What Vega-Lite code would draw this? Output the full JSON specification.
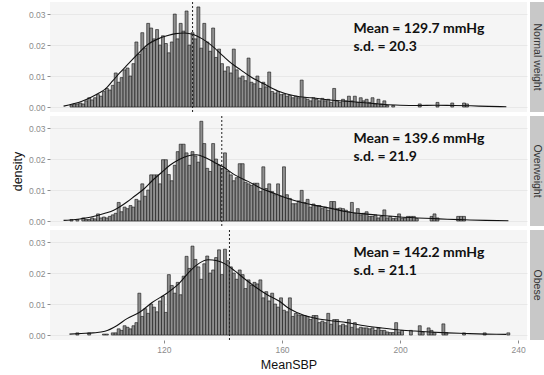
{
  "$schema": "https://vega.github.io/schema/vega-lite/v6.json",
  "background": "white",
  "padding": {"left": 11, "top": 1, "right": 0, "bottom": 3},
  "datasets": {
    "stats": [
      {"g": "Normal weight", "mean": 129.7, "sd": 20.3},
      {"g": "Overweight", "mean": 139.6, "sd": 21.9},
      {"g": "Obese", "mean": 142.2, "sd": 21.1}
    ],
    "normal": [
      {"b":88,"d":0.0007},{"b":89,"d":0.001},{"b":90,"d":0.001},{"b":91,"d":0.0013},{"b":92,"d":0.001},{"b":93,"d":0.002},{"b":94,"d":0.003},{"b":95,"d":0.0023},{"b":96,"d":0.003},{"b":97,"d":0.004},{"b":98,"d":0.0035},{"b":99,"d":0.005},{"b":100,"d":0.006},{"b":101,"d":0.0055},{"b":102,"d":0.007},{"b":103,"d":0.011},{"b":104,"d":0.008},{"b":105,"d":0.0095},{"b":106,"d":0.012},{"b":107,"d":0.0126},{"b":108,"d":0.010},{"b":109,"d":0.014},{"b":110,"d":0.021},{"b":111,"d":0.017},{"b":112,"d":0.024},{"b":113,"d":0.019},{"b":114,"d":0.027},{"b":115,"d":0.0255},{"b":116,"d":0.022},{"b":117,"d":0.025},{"b":118,"d":0.020},{"b":119,"d":0.023},{"b":120,"d":0.0205},{"b":121,"d":0.0175},{"b":122,"d":0.021},{"b":123,"d":0.030},{"b":124,"d":0.022},{"b":125,"d":0.027},{"b":126,"d":0.0245},{"b":127,"d":0.031},{"b":128,"d":0.020},{"b":129,"d":0.024},{"b":130,"d":0.022},{"b":131,"d":0.0323},{"b":132,"d":0.019},{"b":133,"d":0.027},{"b":134,"d":0.021},{"b":135,"d":0.018},{"b":136,"d":0.0255},{"b":137,"d":0.016},{"b":138,"d":0.0187},{"b":139,"d":0.014},{"b":140,"d":0.0116},{"b":141,"d":0.013},{"b":142,"d":0.011},{"b":143,"d":0.0187},{"b":144,"d":0.012},{"b":145,"d":0.0094},{"b":146,"d":0.010},{"b":147,"d":0.0085},{"b":148,"d":0.0158},{"b":149,"d":0.008},{"b":150,"d":0.0075},{"b":151,"d":0.010},{"b":152,"d":0.006},{"b":153,"d":0.008},{"b":154,"d":0.0065},{"b":155,"d":0.0113},{"b":156,"d":0.005},{"b":157,"d":0.0045},{"b":158,"d":0.005},{"b":159,"d":0.004},{"b":160,"d":0.0042},{"b":161,"d":0.0035},{"b":162,"d":0.0038},{"b":163,"d":0.003},{"b":164,"d":0.0035},{"b":165,"d":0.003},{"b":166,"d":0.0087},{"b":167,"d":0.003},{"b":168,"d":0.0025},{"b":169,"d":0.002},{"b":170,"d":0.003},{"b":171,"d":0.0025},{"b":172,"d":0.002},{"b":173,"d":0.0028},{"b":174,"d":0.002},{"b":175,"d":0.0025},{"b":176,"d":0.0015},{"b":177,"d":0.006},{"b":178,"d":0.002},{"b":179,"d":0.0015},{"b":180,"d":0.0025},{"b":181,"d":0.002},{"b":182,"d":0.0035},{"b":183,"d":0.002},{"b":184,"d":0.0035},{"b":185,"d":0.0015},{"b":186,"d":0.003},{"b":187,"d":0.002},{"b":188,"d":0.0025},{"b":189,"d":0.0015},{"b":190,"d":0.003},{"b":191,"d":0.001},{"b":192,"d":0.0025},{"b":193,"d":0.001},{"b":194,"d":0.002},{"b":195,"d":0.0005},{"b":197,"d":0.0005},{"b":206,"d":0.001},{"b":212,"d":0.0015},{"b":217,"d":0.0013},{"b":221,"d":0.0013},{"b":222,"d":0.001}
    ],
    "over": [
      {"b":88,"d":0.0005},{"b":90,"d":0.0005},{"b":92,"d":0.001},{"b":93,"d":0.0005},{"b":94,"d":0.0005},{"b":95,"d":0.001},{"b":96,"d":0.0007},{"b":97,"d":0.0023},{"b":98,"d":0.001},{"b":99,"d":0.0013},{"b":100,"d":0.001},{"b":101,"d":0.0015},{"b":102,"d":0.002},{"b":103,"d":0.0025},{"b":104,"d":0.006},{"b":105,"d":0.003},{"b":106,"d":0.0045},{"b":107,"d":0.004},{"b":108,"d":0.005},{"b":109,"d":0.0045},{"b":110,"d":0.007},{"b":111,"d":0.0065},{"b":112,"d":0.012},{"b":113,"d":0.008},{"b":114,"d":0.010},{"b":115,"d":0.0149},{"b":116,"d":0.0149},{"b":117,"d":0.0149},{"b":118,"d":0.012},{"b":119,"d":0.0198},{"b":120,"d":0.0198},{"b":121,"d":0.015},{"b":122,"d":0.013},{"b":123,"d":0.018},{"b":124,"d":0.0224},{"b":125,"d":0.0248},{"b":126,"d":0.0248},{"b":127,"d":0.022},{"b":128,"d":0.018},{"b":129,"d":0.0224},{"b":130,"d":0.021},{"b":131,"d":0.019},{"b":132,"d":0.0322},{"b":133,"d":0.025},{"b":134,"d":0.017},{"b":135,"d":0.016},{"b":136,"d":0.025},{"b":137,"d":0.020},{"b":138,"d":0.018},{"b":139,"d":0.017},{"b":140,"d":0.022},{"b":141,"d":0.016},{"b":142,"d":0.0149},{"b":143,"d":0.013},{"b":144,"d":0.014},{"b":145,"d":0.0185},{"b":146,"d":0.0185},{"b":147,"d":0.0125},{"b":148,"d":0.012},{"b":149,"d":0.0115},{"b":150,"d":0.0122},{"b":151,"d":0.0122},{"b":152,"d":0.0095},{"b":153,"d":0.0175},{"b":154,"d":0.0105},{"b":155,"d":0.012},{"b":156,"d":0.0095},{"b":157,"d":0.0085},{"b":158,"d":0.012},{"b":159,"d":0.008},{"b":160,"d":0.0175},{"b":161,"d":0.0085},{"b":162,"d":0.0073},{"b":163,"d":0.0056},{"b":164,"d":0.0056},{"b":165,"d":0.0065},{"b":166,"d":0.0099},{"b":167,"d":0.006},{"b":168,"d":0.007},{"b":169,"d":0.0045},{"b":170,"d":0.0055},{"b":171,"d":0.005},{"b":172,"d":0.005},{"b":173,"d":0.004},{"b":174,"d":0.0045},{"b":175,"d":0.0035},{"b":176,"d":0.0063},{"b":177,"d":0.0063},{"b":178,"d":0.004},{"b":179,"d":0.0042},{"b":180,"d":0.004},{"b":181,"d":0.0035},{"b":182,"d":0.003},{"b":183,"d":0.006},{"b":184,"d":0.0025},{"b":185,"d":0.004},{"b":186,"d":0.002},{"b":187,"d":0.0025},{"b":188,"d":0.003},{"b":189,"d":0.0015},{"b":190,"d":0.0015},{"b":191,"d":0.002},{"b":192,"d":0.001},{"b":193,"d":0.0015},{"b":194,"d":0.0036},{"b":195,"d":0.001},{"b":196,"d":0.0015},{"b":197,"d":0.0008},{"b":198,"d":0.001},{"b":199,"d":0.0023},{"b":200,"d":0.0008},{"b":201,"d":0.001},{"b":202,"d":0.0015},{"b":203,"d":0.0015},{"b":204,"d":0.0015},{"b":205,"d":0.0008},{"b":210,"d":0.0015},{"b":211,"d":0.0023},{"b":212,"d":0.001},{"b":219,"d":0.0015},{"b":220,"d":0.0015},{"b":221,"d":0.0015}
    ],
    "obese": [
      {"b":90,"d":0.0007},{"b":94,"d":0.0007},{"b":99,"d":0.0003},{"b":100,"d":0.0003},{"b":102,"d":0.0007},{"b":103,"d":0.0007},{"b":104,"d":0.002},{"b":105,"d":0.0015},{"b":106,"d":0.003},{"b":107,"d":0.0025},{"b":108,"d":0.002},{"b":109,"d":0.003},{"b":110,"d":0.004},{"b":111,"d":0.0135},{"b":112,"d":0.006},{"b":113,"d":0.0085},{"b":114,"d":0.007},{"b":115,"d":0.010},{"b":116,"d":0.009},{"b":117,"d":0.0075},{"b":118,"d":0.011},{"b":119,"d":0.0125},{"b":120,"d":0.0073},{"b":121,"d":0.0195},{"b":122,"d":0.016},{"b":123,"d":0.0135},{"b":124,"d":0.017},{"b":125,"d":0.013},{"b":126,"d":0.019},{"b":127,"d":0.0254},{"b":128,"d":0.0215},{"b":129,"d":0.0287},{"b":130,"d":0.0244},{"b":131,"d":0.022},{"b":132,"d":0.018},{"b":133,"d":0.023},{"b":134,"d":0.0255},{"b":135,"d":0.020},{"b":136,"d":0.021},{"b":137,"d":0.025},{"b":138,"d":0.0275},{"b":139,"d":0.0195},{"b":140,"d":0.0277},{"b":141,"d":0.024},{"b":142,"d":0.022},{"b":143,"d":0.020},{"b":144,"d":0.018},{"b":145,"d":0.021},{"b":146,"d":0.0195},{"b":147,"d":0.015},{"b":148,"d":0.0178},{"b":149,"d":0.016},{"b":150,"d":0.017},{"b":151,"d":0.0165},{"b":152,"d":0.0178},{"b":153,"d":0.012},{"b":154,"d":0.014},{"b":155,"d":0.011},{"b":156,"d":0.0135},{"b":157,"d":0.010},{"b":158,"d":0.009},{"b":159,"d":0.012},{"b":160,"d":0.008},{"b":161,"d":0.0075},{"b":162,"d":0.012},{"b":163,"d":0.006},{"b":164,"d":0.007},{"b":165,"d":0.0065},{"b":166,"d":0.0063},{"b":167,"d":0.0063},{"b":168,"d":0.006},{"b":169,"d":0.005},{"b":170,"d":0.0063},{"b":171,"d":0.0063},{"b":172,"d":0.004},{"b":173,"d":0.0045},{"b":174,"d":0.004},{"b":175,"d":0.007},{"b":176,"d":0.0035},{"b":177,"d":0.005},{"b":178,"d":0.005},{"b":179,"d":0.003},{"b":180,"d":0.0035},{"b":181,"d":0.003},{"b":182,"d":0.005},{"b":183,"d":0.0025},{"b":184,"d":0.004},{"b":185,"d":0.002},{"b":186,"d":0.0025},{"b":187,"d":0.0023},{"b":188,"d":0.0023},{"b":189,"d":0.002},{"b":190,"d":0.0023},{"b":191,"d":0.0015},{"b":192,"d":0.0023},{"b":193,"d":0.0015},{"b":194,"d":0.0015},{"b":195,"d":0.001},{"b":196,"d":0.0008},{"b":197,"d":0.0008},{"b":198,"d":0.004},{"b":199,"d":0.001},{"b":200,"d":0.0015},{"b":203,"d":0.0015},{"b":206,"d":0.003},{"b":207,"d":0.001},{"b":209,"d":0.0023},{"b":210,"d":0.0015},{"b":211,"d":0.0008},{"b":214,"d":0.0036},{"b":215,"d":0.0008},{"b":221,"d":0.0007},{"b":228,"d":0.0007},{"b":236,"d":0.0007}
    ],
    "normalKde": [
      {"x":86,"d":0.0003},{"x":89,"d":0.001},{"x":92,"d":0.0018},{"x":95,"d":0.003},{"x":98,"d":0.0045},{"x":100,"d":0.0057},{"x":102.7,"d":0.0085},{"x":105,"d":0.011},{"x":107,"d":0.013},{"x":110,"d":0.016},{"x":112,"d":0.018},{"x":115,"d":0.0205},{"x":118,"d":0.022},{"x":121,"d":0.023},{"x":124,"d":0.0237},{"x":127,"d":0.0239},{"x":130,"d":0.0234},{"x":133,"d":0.022},{"x":136,"d":0.020},{"x":140,"d":0.0165},{"x":143,"d":0.014},{"x":146,"d":0.012},{"x":149.5,"d":0.0097},{"x":154,"d":0.0074},{"x":158.6,"d":0.0052},{"x":163,"d":0.0039},{"x":166,"d":0.0033},{"x":170,"d":0.003},{"x":177,"d":0.0022},{"x":183,"d":0.0018},{"x":189,"d":0.0013},{"x":195,"d":0.0008},{"x":200,"d":0.0006},{"x":206,"d":0.0005},{"x":212,"d":0.0006},{"x":218,"d":0.0005},{"x":224,"d":0.0004},{"x":230,"d":0.0002},{"x":236,"d":0.0001}
    ],
    "overKde": [
      {"x":86,"d":0.0002},{"x":90,"d":0.0005},{"x":95,"d":0.0012},{"x":100,"d":0.0025},{"x":103,"d":0.0035},{"x":107.7,"d":0.0063},{"x":110,"d":0.008},{"x":113.4,"d":0.0105},{"x":116,"d":0.013},{"x":119,"d":0.0155},{"x":122,"d":0.018},{"x":125,"d":0.0198},{"x":128,"d":0.021},{"x":131,"d":0.0214},{"x":134,"d":0.0205},{"x":137,"d":0.019},{"x":140,"d":0.0175},{"x":144,"d":0.0149},{"x":148.5,"d":0.0128},{"x":153,"d":0.0105},{"x":157.5,"d":0.0089},{"x":162,"d":0.0073},{"x":166.7,"d":0.006},{"x":170,"d":0.0053},{"x":177,"d":0.004},{"x":182,"d":0.003},{"x":188,"d":0.0023},{"x":194,"d":0.0018},{"x":200,"d":0.0013},{"x":206,"d":0.001},{"x":211,"d":0.0008},{"x":216,"d":0.0006},{"x":222,"d":0.0004},{"x":229,"d":0.0002},{"x":236.7,"d":0.0001}
    ],
    "obeseKde": [
      {"x":88,"d":0.0003},{"x":92,"d":0.0005},{"x":96,"d":0.0007},{"x":100,"d":0.0012},{"x":104,"d":0.003},{"x":107.5,"d":0.0053},{"x":112,"d":0.0075},{"x":116,"d":0.0105},{"x":121,"d":0.0135},{"x":125,"d":0.0165},{"x":129,"d":0.0208},{"x":132,"d":0.0232},{"x":135,"d":0.0243},{"x":138,"d":0.024},{"x":141,"d":0.0228},{"x":144,"d":0.0207},{"x":147.5,"d":0.018},{"x":151,"d":0.0155},{"x":155,"d":0.013},{"x":159,"d":0.011},{"x":162,"d":0.0088},{"x":165,"d":0.0073},{"x":170.5,"d":0.0056},{"x":176,"d":0.0047},{"x":182,"d":0.004},{"x":188,"d":0.003},{"x":193.5,"d":0.0023},{"x":199,"d":0.0017},{"x":205,"d":0.0013},{"x":210,"d":0.001},{"x":216,"d":0.0007},{"x":222,"d":0.0005},{"x":229,"d":0.0003},{"x":236,"d":0.0002}
    ]
  },
  "spacing": 3,
  "hconcat": [
    {
      "spacing": 4,
      "bounds": "flush",
      "vconcat": [
        {
          "width": 477, "height": 110,
          "view": {"fill": "#f5f5f5", "stroke": null},
          "layer": [
            {"data": {"name": "normal"},
             "mark": {"type": "bar", "fill": "#8f8f8f", "stroke": "#111111", "strokeWidth": 0.6, "binSpacing": 0},
             "encoding": {
               "x": {"field": "b", "type": "quantitative", "bin": {"binned": true, "step": 1}, "title": null,
                     "scale": {"domain": [81.4, 243], "nice": false, "zero": false},
                     "axis": {"values": [120, 160, 200, 240], "labels": false, "ticks": false, "title": null}},
               "y": {"field": "d", "type": "quantitative", "title": null,
                     "scale": {"domain": [-0.0016, 0.0339], "nice": false, "zero": false},
                     "axis": {"tickCount": 4, "format": ".2f", "labelOverlap": false, "title": null}}}},
            {"data": {"name": "normalKde"},
             "mark": {"type": "line", "color": "#111111", "strokeWidth": 1.1, "interpolate": "monotone"},
             "encoding": {"x": {"field": "x", "type": "quantitative", "title": null}, "y": {"field": "d", "type": "quantitative", "title": null}}},
            {"data": {"name": "stats"}, "transform": [{"filter": "datum.g === 'Normal weight'"}],
             "mark": {"type": "rule", "color": "#222222", "strokeWidth": 1, "strokeDash": [2, 2]},
             "encoding": {"x": {"field": "mean", "type": "quantitative", "title": null}}},
            {"data": {"name": "stats"},
             "transform": [{"filter": "datum.g === 'Normal weight'"}, {"calculate": "'Mean = ' + format(datum.mean, '.1f') + ' mmHg'", "as": "t1"}],
             "mark": {"type": "text", "align": "left", "baseline": "alphabetic", "font": "Lato", "fontSize": 14, "fontWeight": "bold", "color": "#111111"},
             "encoding": {"x": {"datum": 184.2, "type": "quantitative"}, "y": {"datum": 0.0238, "type": "quantitative"}, "text": {"field": "t1"}}},
            {"data": {"name": "stats"},
             "transform": [{"filter": "datum.g === 'Normal weight'"}, {"calculate": "'s.d. = ' + format(datum.sd, '.1f')", "as": "t2"}],
             "mark": {"type": "text", "align": "left", "baseline": "alphabetic", "font": "Lato", "fontSize": 14, "fontWeight": "bold", "color": "#111111"},
             "encoding": {"x": {"datum": 184.2, "type": "quantitative"}, "y": {"datum": 0.0181, "type": "quantitative"}, "text": {"field": "t2"}}}
          ]
        },
        {
          "width": 477, "height": 110,
          "view": {"fill": "#f5f5f5", "stroke": null},
          "layer": [
            {"data": {"name": "over"},
             "mark": {"type": "bar", "fill": "#8f8f8f", "stroke": "#111111", "strokeWidth": 0.6, "binSpacing": 0},
             "encoding": {
               "x": {"field": "b", "type": "quantitative", "bin": {"binned": true, "step": 1}, "title": null,
                     "scale": {"domain": [81.4, 243], "nice": false, "zero": false},
                     "axis": {"values": [120, 160, 200, 240], "labels": false, "ticks": false, "title": null}},
               "y": {"field": "d", "type": "quantitative", "title": "density",
                     "scale": {"domain": [-0.0016, 0.0339], "nice": false, "zero": false},
                     "axis": {"tickCount": 4, "format": ".2f", "labelOverlap": false, "title": "density", "titlePadding": 4}}}},
            {"data": {"name": "overKde"},
             "mark": {"type": "line", "color": "#111111", "strokeWidth": 1.1, "interpolate": "monotone"},
             "encoding": {"x": {"field": "x", "type": "quantitative", "title": null}, "y": {"field": "d", "type": "quantitative", "title": "density"}}},
            {"data": {"name": "stats"}, "transform": [{"filter": "datum.g === 'Overweight'"}],
             "mark": {"type": "rule", "color": "#222222", "strokeWidth": 1, "strokeDash": [2, 2]},
             "encoding": {"x": {"field": "mean", "type": "quantitative", "title": null}}},
            {"data": {"name": "stats"},
             "transform": [{"filter": "datum.g === 'Overweight'"}, {"calculate": "'Mean = ' + format(datum.mean, '.1f') + ' mmHg'", "as": "t1"}],
             "mark": {"type": "text", "align": "left", "baseline": "alphabetic", "font": "Lato", "fontSize": 14, "fontWeight": "bold", "color": "#111111"},
             "encoding": {"x": {"datum": 184.2, "type": "quantitative"}, "y": {"datum": 0.0252, "type": "quantitative"}, "text": {"field": "t1"}}},
            {"data": {"name": "stats"},
             "transform": [{"filter": "datum.g === 'Overweight'"}, {"calculate": "'s.d. = ' + format(datum.sd, '.1f')", "as": "t2"}],
             "mark": {"type": "text", "align": "left", "baseline": "alphabetic", "font": "Lato", "fontSize": 14, "fontWeight": "bold", "color": "#111111"},
             "encoding": {"x": {"datum": 184.2, "type": "quantitative"}, "y": {"datum": 0.0195, "type": "quantitative"}, "text": {"field": "t2"}}}
          ]
        },
        {
          "width": 477, "height": 110,
          "view": {"fill": "#f5f5f5", "stroke": null},
          "layer": [
            {"data": {"name": "obese"},
             "mark": {"type": "bar", "fill": "#8f8f8f", "stroke": "#111111", "strokeWidth": 0.6, "binSpacing": 0},
             "encoding": {
               "x": {"field": "b", "type": "quantitative", "bin": {"binned": true, "step": 1}, "title": "MeanSBP",
                     "scale": {"domain": [81.4, 243], "nice": false, "zero": false},
                     "axis": {"values": [120, 160, 200, 240], "title": "MeanSBP", "labelPadding": 2, "titlePadding": 5}},
               "y": {"field": "d", "type": "quantitative", "title": null,
                     "scale": {"domain": [-0.0016, 0.0339], "nice": false, "zero": false},
                     "axis": {"tickCount": 4, "format": ".2f", "labelOverlap": false, "title": null}}}},
            {"data": {"name": "obeseKde"},
             "mark": {"type": "line", "color": "#111111", "strokeWidth": 1.1, "interpolate": "monotone"},
             "encoding": {"x": {"field": "x", "type": "quantitative", "title": "MeanSBP"}, "y": {"field": "d", "type": "quantitative", "title": null}}},
            {"data": {"name": "stats"}, "transform": [{"filter": "datum.g === 'Obese'"}],
             "mark": {"type": "rule", "color": "#222222", "strokeWidth": 1, "strokeDash": [2, 2]},
             "encoding": {"x": {"field": "mean", "type": "quantitative", "title": "MeanSBP"}}},
            {"data": {"name": "stats"},
             "transform": [{"filter": "datum.g === 'Obese'"}, {"calculate": "'Mean = ' + format(datum.mean, '.1f') + ' mmHg'", "as": "t1"}],
             "mark": {"type": "text", "align": "left", "baseline": "alphabetic", "font": "Lato", "fontSize": 14, "fontWeight": "bold", "color": "#111111"},
             "encoding": {"x": {"datum": 184.2, "type": "quantitative"}, "y": {"datum": 0.0252, "type": "quantitative"}, "text": {"field": "t1"}}},
            {"data": {"name": "stats"},
             "transform": [{"filter": "datum.g === 'Obese'"}, {"calculate": "'s.d. = ' + format(datum.sd, '.1f')", "as": "t2"}],
             "mark": {"type": "text", "align": "left", "baseline": "alphabetic", "font": "Lato", "fontSize": 14, "fontWeight": "bold", "color": "#111111"},
             "encoding": {"x": {"datum": 184.2, "type": "quantitative"}, "y": {"datum": 0.0195, "type": "quantitative"}, "text": {"field": "t2"}}}
          ]
        }
      ]
    },
    {
      "spacing": 4,
      "bounds": "flush",
      "vconcat": [
        {"width": 14, "height": 110, "view": {"fill": "#c8c8c8", "stroke": null},
         "data": {"name": "stats"}, "transform": [{"filter": "datum.g === 'Normal weight'"}],
         "mark": {"type": "text", "angle": 90, "font": "Liberation Sans", "fontSize": 10.5, "color": "#333333"},
         "encoding": {"text": {"field": "g"}}},
        {"width": 14, "height": 110, "view": {"fill": "#c8c8c8", "stroke": null},
         "data": {"name": "stats"}, "transform": [{"filter": "datum.g === 'Overweight'"}],
         "mark": {"type": "text", "angle": 90, "font": "Liberation Sans", "fontSize": 10.5, "color": "#333333"},
         "encoding": {"text": {"field": "g"}}},
        {"width": 14, "height": 110, "view": {"fill": "#c8c8c8", "stroke": null},
         "data": {"name": "stats"}, "transform": [{"filter": "datum.g === 'Obese'"}],
         "mark": {"type": "text", "angle": 90, "font": "Liberation Sans", "fontSize": 10.5, "color": "#333333"},
         "encoding": {"text": {"field": "g"}}}
      ]
    }
  ],
  "config": {
    "view": {"stroke": null},
    "axis": {
      "domain": false,
      "labelColor": "#8c8c8c", "labelFont": "Liberation Sans", "labelFontSize": 8.5,
      "tickColor": "#8c8c8c", "tickSize": 3, "labelPadding": 2,
      "gridColor": "#e4e4e4", "gridWidth": 0.8,
      "titleFont": "Liberation Sans", "titleFontWeight": "normal", "titleColor": "#111111", "titleFontSize": 12.5
    }
  }
}
